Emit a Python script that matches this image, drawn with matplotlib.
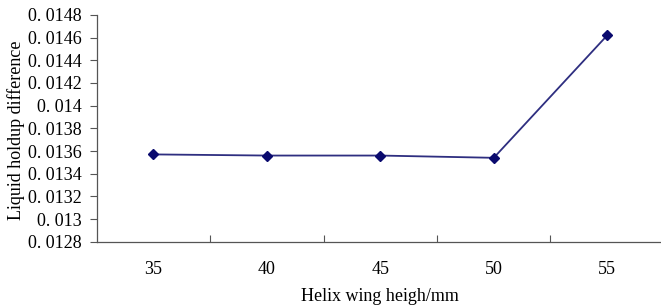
import matplotlib
matplotlib.use("Agg")
import matplotlib.pyplot as plt
import numpy as np

# data
heights = ["35", "40", "45", "50", "55"]
holdup_diff = [0.01357, 0.01356, 0.01356, 0.01354, 0.01462]
y_ticks = [0.0128, 0.0130, 0.0132, 0.0134, 0.0136, 0.0138,
           0.0140, 0.0142, 0.0144, 0.0146, 0.0148]

plt.rcParams['font.family'] = ['Liberation Serif', 'DejaVu Serif']

fig = plt.figure(figsize=(6.61, 3.06), dpi=100)
ax = fig.add_axes([0.1464, 0.2101, 0.858, 0.741])

x = np.arange(len(heights))
ax.plot(x, holdup_diff, color='#2e2e80', linewidth=1.3,
        marker='D', markersize=5, markerfacecolor='#0a0a6e',
        markeredgecolor='#0a0a6e')

ax.set_xlim(-0.5, len(heights) - 0.5)
ax.set_ylim(y_ticks[0], y_ticks[-1])

# Excel-style category axis: ticks between categories, labels centred
ax.set_xticks(x[:-1] + 0.5)
ax.set_xticklabels([])
ax.set_xticks(x, minor=True)
ax.set_xticklabels(heights, minor=True)
ax.tick_params(axis='x', which='major', direction='in', length=5,
               width=0.8, color='#555555')
ax.tick_params(axis='x', which='minor', length=0, pad=14, labelsize=13)

ax.set_yticks(y_ticks)
ax.set_yticklabels([('%g' % v).replace('.', '. ') for v in y_ticks])
ax.tick_params(axis='y', direction='out', length=5, width=0.8,
               color='#555555', pad=6, labelsize=13)

for side in ['top', 'right']:
    ax.spines[side].set_visible(False)
for side in ['left', 'bottom']:
    ax.spines[side].set_color('#555555')
    ax.spines[side].set_linewidth(0.9)

ax.set_xlabel("Helix wing heigh/mm", fontsize=13, labelpad=7)
ax.set_ylabel("Liquid holdup difference", fontsize=13)
ax.yaxis.set_label_coords(-0.127, 0.49)

fig.savefig("out.png", dpi=100)
